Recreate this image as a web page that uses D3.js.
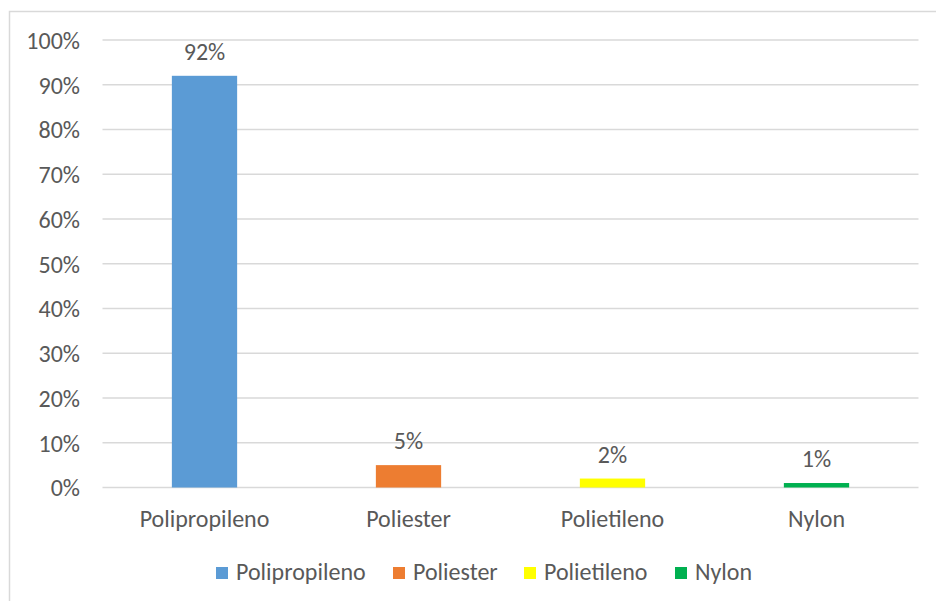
<!DOCTYPE html>
<html>
<head>
<meta charset="utf-8">
<script src="https://cdn.jsdelivr.net/npm/d3@7"></script>
<style>
  html, body { margin: 0; padding: 0; background: #fff; }
  svg { display: block; }
  text { font-family: Calibri, Carlito, Lato, "Open Sans", "Liberation Sans", sans-serif; fill: #595959; }
</style>
</head>
<body>
<svg id="chart" width="936" height="601"></svg>
<script>
// Fibre types and their share of the total
const categories = ["Polipropileno", "Poliester", "Polietileno", "Nylon"];
const shares = [0.92, 0.05, 0.02, 0.01];
const colors = ["#5b9bd5", "#ed7d31", "#ffff00", "#00b050"];
const tickValues = [0, 0.1, 0.2, 0.3, 0.4, 0.5, 0.6, 0.7, 0.8, 0.9, 1.0];

const svg = d3.select("#chart");
const W = 936, H = 601;
const FS = 24;

// outer frame
svg.append("rect")
  .attr("x", 9.5).attr("y", 11.5)
  .attr("width", W - 9.5 + 5).attr("height", H - 11.5 + 5)
  .attr("fill", "none").attr("stroke", "#d9d9d9").attr("stroke-width", 1.5);

const plot = { left: 102.5, right: 918.5, top: 40, bottom: 487.5 };

const x = d3.scaleBand().domain(categories).range([plot.left, plot.right]).padding(0);
const y = d3.scaleLinear().domain([0, 1]).range([plot.bottom, plot.top]);
const barW = x.bandwidth() * 0.32;

// gridlines
svg.append("g").selectAll("line").data(tickValues).join("line")
  .attr("x1", plot.left).attr("x2", plot.right)
  .attr("y1", d => y(d)).attr("y2", d => y(d))
  .attr("stroke", "#d9d9d9").attr("stroke-width", 1.5);

// y axis labels
const yAxis = d3.axisLeft(y).tickValues(tickValues).tickFormat(d3.format(".0%")).tickSize(0).tickPadding(0);
const gy = svg.append("g").attr("transform", "translate(80,0)").call(yAxis);
gy.select(".domain").remove();
gy.selectAll("text").attr("font-size", FS).attr("fill", "#595959")
  .attr("dy", "0.35em").style("font-family", null);

// bars
svg.append("g").selectAll("rect").data(categories).join("rect")
  .attr("x", (d) => x(d) + x.bandwidth() / 2 - barW / 2)
  .attr("width", barW)
  .attr("y", (d, i) => y(shares[i]))
  .attr("height", (d, i) => y(0) - y(shares[i]))
  .attr("fill", (d, i) => colors[i]);

// value labels
svg.append("g").selectAll("text").data(categories).join("text")
  .attr("x", d => x(d) + x.bandwidth() / 2)
  .attr("y", (d, i) => y(shares[i]) - 16)
  .attr("text-anchor", "middle")
  .attr("font-size", FS)
  .text((d, i) => d3.format(".0%")(shares[i]));

// category labels
const xAxis = d3.axisBottom(x).tickSize(0).tickPadding(0);
const gx = svg.append("g").call(xAxis);
gx.select(".domain").remove();
gx.selectAll("text").attr("font-size", FS).attr("fill", "#595959")
  .attr("y", 527).attr("dy", null).style("font-family", null);

// legend
const legendX = [216, 393, 524, 675];
const lg = svg.append("g").selectAll("g").data(categories).join("g")
  .attr("transform", (d, i) => `translate(${legendX[i]},567)`);
lg.append("rect").attr("width", 12).attr("height", 12).attr("fill", (d, i) => colors[i]);
lg.append("text").attr("x", 20).attr("y", 13).attr("font-size", FS).text(d => d);
</script>
</body>
</html>
